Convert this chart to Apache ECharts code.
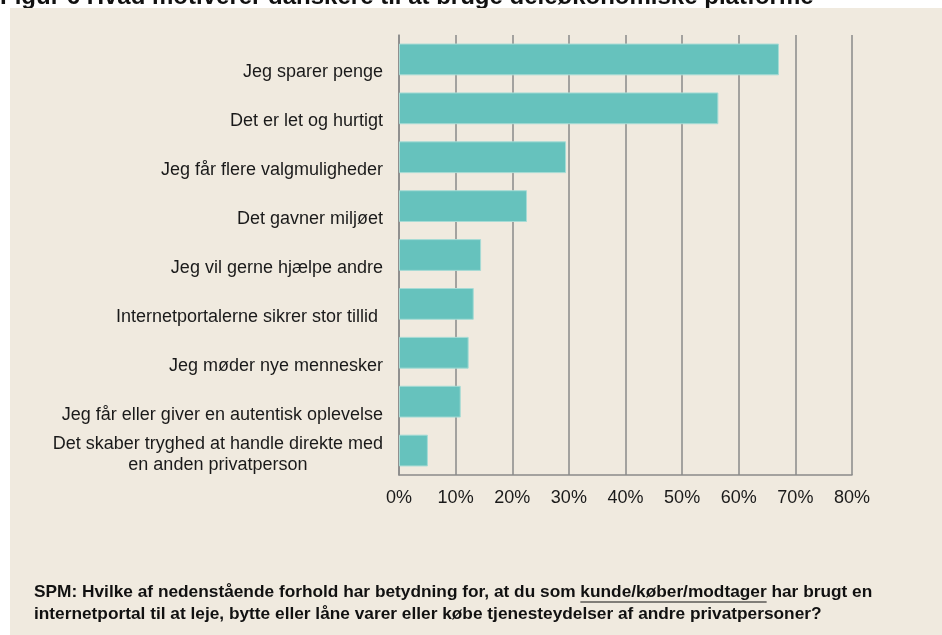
<!DOCTYPE html>
<html>
<head>
<meta charset="utf-8">
<script src="https://cdn.jsdelivr.net/npm/echarts@6/dist/echarts.min.js"></script>
<style>
  html, body { margin: 0; padding: 0; background: #fff; }
  #chart { width: 942px; height: 635px; }
</style>
</head>
<body>
<div id="chart"></div>
<script>
// kategorier, fra top til bund
var categories = [
  'Jeg sparer penge',
  'Det er let og hurtigt',
  'Jeg får flere valgmuligheder',
  'Det gavner miljøet',
  'Jeg vil gerne hjælpe andre',
  'Internetportalerne sikrer stor tillid ',
  'Jeg møder nye mennesker',
  'Jeg får eller giver en autentisk oplevelse',
  'Det skaber tryghed at handle direkte med\nen anden privatperson'
];
// andel i procent
var values = [67.1, 56.4, 29.5, 22.6, 14.5, 13.2, 12.3, 10.9, 5.1];
var xTicks = [0, 10, 20, 30, 40, 50, 60, 70, 80];

var titleText = 'Figur 6 Hvad motiverer danskere til at bruge deleøkonomiske platforme';
var noteLine1a = 'SPM: Hvilke af nedenstående forhold har betydning for, at du som ';
var noteLine1b = 'kunde/køber/modtager';
var noteLine1c = ' har brugt en';
var noteLine2 = 'internetportal til at leje, bytte eller låne varer eller købe tjenesteydelser af andre privatpersoner?';

var FONT = "'Liberation Sans', Arial, Helvetica, sans-serif";
var noteFont = 'bold 17.3px ' + FONT;

// maal tekstbredde til understregningen
var ctx = document.createElement('canvas').getContext('2d');
ctx.font = noteFont;
var noteX = 34;
var ulStart = noteX + ctx.measureText(noteLine1a).width;
var ulEnd = ulStart + ctx.measureText(noteLine1b).width;

// etiketterne sidder lidt under bjaelkens midte i originalen
var yData = categories.map(function (c) {
  var twoLines = c.indexOf('\n') >= 0;
  return { value: c, textStyle: { padding: twoLines ? [8, 0, 0, 0] : [26, 0, 0, 0] } };
});

var chart = echarts.init(document.getElementById('chart'));

chart.setOption({
  animation: false,
  backgroundColor: '#f0eadf',
  grid: { left: 399, right: 90, top: 35, bottom: 160 },
  xAxis: {
    type: 'value',
    min: 0,
    max: 80,
    interval: 10,
    axisLine: { show: true, lineStyle: { color: '#8a8a8a', width: 1.5 } },
    axisTick: { show: false },
    splitLine: { show: true, lineStyle: { color: '#8a8a8a', width: 1.5 } },
    axisLabel: {
      margin: 14,
      color: '#1a1a1a',
      fontSize: 18,
      fontFamily: FONT,
      formatter: function (v) { return xTicks.indexOf(v) >= 0 ? v + '%' : ''; }
    }
  },
  yAxis: {
    type: 'category',
    inverse: true,
    data: yData,
    axisLine: { show: true, lineStyle: { color: '#8a8a8a', width: 1.5 } },
    axisTick: { show: false },
    axisLabel: {
      margin: 16,
      color: '#1a1a1a',
      fontSize: 18,
      fontFamily: FONT,
      lineHeight: 21,
      formatter: function (v) {
        if (v.indexOf('\n') >= 0) {
          return v.split('\n').map(function (s) { return '{c|' + s + '}'; }).join('\n');
        }
        return v;
      },
      rich: {
        c: { align: 'center', fontSize: 18, fontFamily: FONT, color: '#1a1a1a', lineHeight: 21 }
      }
    }
  },
  series: [{
    type: 'bar',
    data: values,
    barCategoryGap: '35%',
    itemStyle: { color: '#66c2bd', borderColor: '#a6dbd5', borderWidth: 1 }
  }],
  graphic: [
    // hvid kant oeverst og til venstre
    {
      type: 'rect', z: 100, silent: true,
      shape: { x: 0, y: 0, width: 942, height: 8 },
      style: { fill: '#ffffff' }
    },
    {
      type: 'rect', z: 100, silent: true,
      shape: { x: 0, y: 0, width: 10, height: 635 },
      style: { fill: '#ffffff' }
    },
    {
      type: 'text', x: 0, y: -3, z: 101,
      style: { text: titleText, font: 'bold 24px ' + FONT, fill: '#111', verticalAlign: 'middle' }
    },
    // beige felt skjuler titlens nederste del
    {
      type: 'rect', z: 102, silent: true,
      shape: { x: 10, y: 8, width: 932, height: 12 },
      style: { fill: '#f0eadf' }
    },
    {
      type: 'text', x: noteX, y: 592, z: 5,
      style: { text: noteLine1a + noteLine1b + noteLine1c, font: noteFont, fill: '#111', verticalAlign: 'middle' }
    },
    {
      type: 'line', z: 5,
      shape: { x1: ulStart, y1: 602, x2: ulEnd, y2: 602 },
      style: { stroke: '#111', lineWidth: 1.2 }
    },
    {
      type: 'text', x: noteX, y: 614, z: 5,
      style: { text: noteLine2, font: noteFont, fill: '#111', verticalAlign: 'middle' }
    }
  ]
});
</script>
</body>
</html>
